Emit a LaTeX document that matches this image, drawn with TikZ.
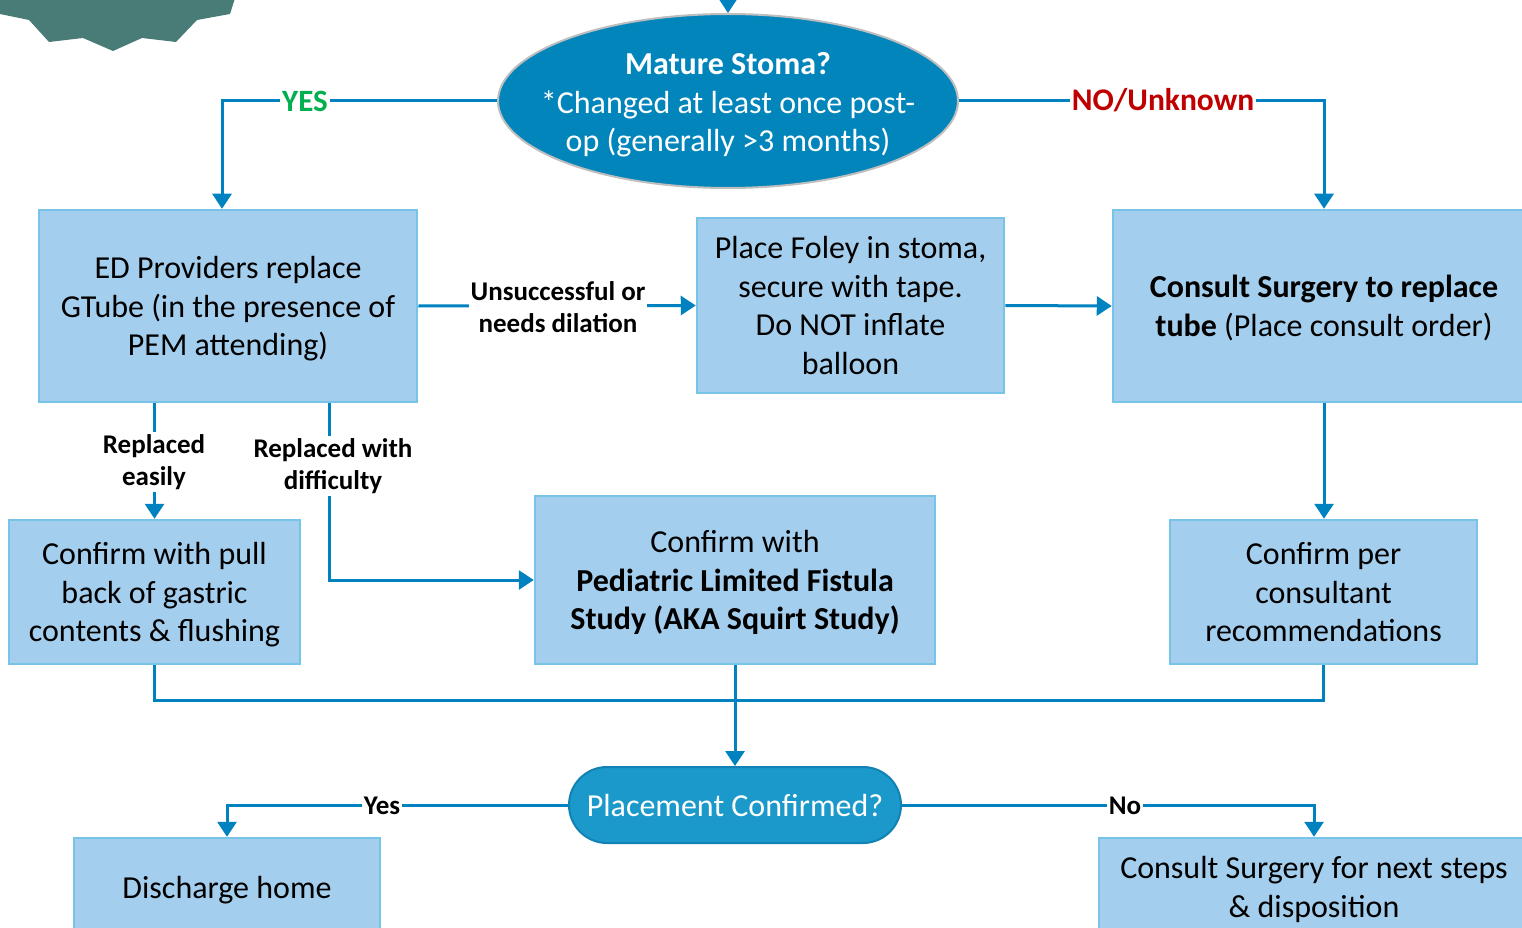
\documentclass[tikz,border=0pt]{standalone}
\usepackage{fontspec}
\setmainfont{Carlito}
\usetikzlibrary{arrows.meta,shapes.geometric,calc}
\definecolor{boxfill}{RGB}{164,206,237}
\definecolor{boxline}{RGB}{120,196,232}
\definecolor{conn}{RGB}{0,130,192}
\definecolor{ellfill}{RGB}{2,133,187}
\definecolor{ellline}{RGB}{190,190,190}
\definecolor{pillfill}{RGB}{26,153,202}
\definecolor{pillline}{RGB}{18,130,180}
\definecolor{gearcol}{RGB}{73,124,119}
\definecolor{yesgreen}{RGB}{0,176,80}
\definecolor{nored}{RGB}{192,0,0}
\newcommand\mybody{\fontsize{32}{38.5}\selectfont}
\newcommand\mylabel{\fontsize{27}{32}\selectfont\bfseries}
\begin{document}
\begin{tikzpicture}[x=1pt,y=-1pt,
  boxnode/.style={draw=boxline,fill=boxfill,line width=2.5pt,align=center,inner sep=0pt,font=\mybody,text depth=0pt},
  connect/.style={draw=conn,line width=3pt},
  arrowed/.style={connect,-{Triangle[length=15pt,width=19pt]}},
  lbl/.style={fill=white,inner sep=2pt,font=\mylabel,align=center}]
\useasboundingbox (0,0) rectangle (1522,928);
\clip (0,0) rectangle (1522,928);
% gear shape
\fill[gearcol] (0,-5) -- (0,14) -- (29,20) -- (49,42) -- (83,38) -- (113,51) -- (142,38) -- (176,42) -- (197,20) -- (230,14) -- (236,-5) -- cycle;
% nodes
\node[ellipse,draw=ellline,fill=ellfill,line width=2pt,minimum width=460pt,minimum height=174pt,inner sep=0pt] (ell) at (728,101) {};
\node[align=center,text=white,font=\mybody,inner sep=0pt,text depth=0pt] (elltext) at ([yshift=-1pt]ell.center)
  {\textbf{Mature Stoma?}\\*Changed at least once post-\\op (generally >3 months)};
\coordinate (topin) at (728,-20);
\node[boxnode,minimum width=378pt,minimum height=192pt] (ed) at (228,306)
  {ED Providers replace\\GTube (in the presence of\\PEM attending)};
\node[boxnode,minimum width=307pt,minimum height=175pt] (foley) at (850.5,305.5)
  {Place Foley in stoma,\\secure with tape.\\Do NOT inflate\\balloon};
\node[boxnode,minimum width=422pt,minimum height=192pt] (cons) at (1324,306)
  {\textbf{Consult Surgery to replace}\\\textbf{tube} (Place consult order)};
\node[boxnode,minimum width=291pt,minimum height=144pt] (left) at (154.5,592)
  {Confirm with pull\\back of gastric\\contents \& flushing};
\node[boxnode,minimum width=400pt,minimum height=168pt] (squirt) at (735,580)
  {Confirm with\\\textbf{Pediatric Limited Fistula}\\\textbf{Study (AKA Squirt Study)}};
\node[boxnode,minimum width=307pt,minimum height=144pt] (per) at (1323.5,592)
  {Confirm per\\consultant\\recommendations};
\node[rectangle,rounded corners=38pt,draw=pillline,fill=pillfill,line width=2pt,minimum width=332pt,minimum height=76pt,inner sep=0pt,text=white,font=\mybody] (place) at (735,805)
  {Placement Confirmed?};
\node[boxnode,minimum width=306pt,minimum height=98pt] (dis) at (227,887)
  {Discharge home};
\node[boxnode,minimum width=430pt,minimum height=98pt] (nxt) at (1314,887)
  {Consult Surgery for next steps\\\& disposition};
\coordinate (m) at (735,700);
% connectors
\draw[arrowed] (topin) -- (ell.north);
\draw[arrowed] (ell.west) -| ([xshift=-6pt]ed.north);
\node[lbl,text=yesgreen,font=\fontsize{31}{36}\selectfont\bfseries] (yes) at (305,101) {YES};
\draw[arrowed] (ell.east) -| (cons.north);
\node[lbl,text=nored,font=\fontsize{31.5}{36}\selectfont\bfseries] (no) at (1163,100) {NO/Unknown};
\draw[arrowed] (ed.east) -- (foley.west);
\node[lbl] (unsucc) at (558,307) {Unsuccessful or\\needs dilation};
\draw[arrowed] (foley.east) -- (cons.west);
\draw[arrowed] (cons.south) -- (cons.south |- per.north);
\draw[arrowed] (left.north |- ed.south) -- (left.north);
\node[lbl] (easy) at (154,462) {Replaced\\easily};
\draw[arrowed] ([xshift=101pt]ed.south) |- (squirt.west);
\node[lbl] (diff) at (333,466) {Replaced with\\difficulty};
\draw[connect] (left.south) -- (left.south |- m) -- (per.south |- m) -- (per.south);
\draw[arrowed] (squirt.south) -- (place.north);
\draw[arrowed] (place.west) -| (dis.north);
\node[lbl] (yes2) at (382,806) {Yes};
\draw[arrowed] (place.east) -| (nxt.north);
\node[lbl] (no2) at (1125,806) {No};
\end{tikzpicture}
\end{document}
